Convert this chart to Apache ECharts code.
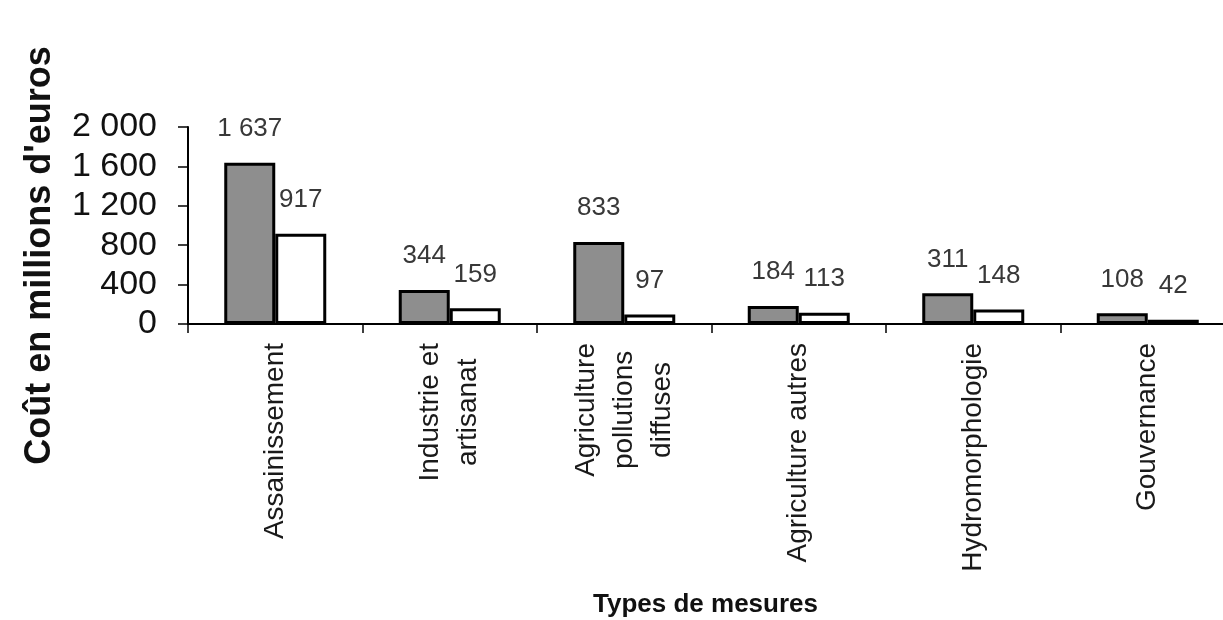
<!DOCTYPE html>
<html>
<head>
<meta charset="utf-8">
<script src="https://cdn.jsdelivr.net/npm/echarts@6/dist/echarts.min.js"></script>
<style>
html,body{margin:0;padding:0;background:#fff;}
#chart{width:1223px;height:620px;}
</style>
</head>
<body>
<div id="chart"></div>
<script>
const categories = ['Assainissement', 'Industrie et\nartisanat', 'Agriculture\npollutions\ndiffuses', 'Agriculture autres', 'Hydromorphologie', 'Gouvernance'];
const seriesA = [1637, 344, 833, 184, 311, 108];
const seriesB = [917, 159, 97, 113, 148, 42];
const yTicks = [0, 400, 800, 1200, 1600, 2000];

function fmt(v) {
  return String(v).replace(/\B(?=(\d{3})+(?!\d))/g, ' ');
}

const FONT = "'Liberation Sans', Arial, sans-serif";
const chart = echarts.init(document.getElementById('chart'));

const labelStyle = {
  show: true,
  position: 'top',
  distance: 21,
  fontSize: 26,
  fontFamily: FONT,
  color: '#383838',
  formatter: p => fmt(p.value)
};

chart.setOption({
  backgroundColor: '#fff',
  animation: false,
  grid: { left: 188, width: 1047, top: 127, bottom: 296, containLabel: false, outerBoundsMode: 'none' },
  xAxis: {
    type: 'category',
    data: categories,
    boundaryGap: true,
    name: 'Types de mesures',
    nameLocation: 'middle',
    nameGap: 268,
    nameTextStyle: { fontSize: 26, fontWeight: 'bold', fontFamily: FONT, color: '#111', padding: [0, 12, 0, 0] },
    axisLine: { lineStyle: { color: '#000', width: 2 } },
    axisTick: { show: true, inside: false, length: 9, lineStyle: { color: '#000', width: 1.5 } },
    axisLabel: {
      interval: 0,
      rotate: 90,
      margin: 19,
      fontSize: 28,
      fontFamily: FONT,
      color: '#1a1a1a',
      formatter: v => v.split('\n').map(s => '{c|' + s + '}').join('\n'),
      rich: { c: { align: 'center', fontSize: 28, lineHeight: 38, fontFamily: FONT, color: '#1a1a1a' } }
    }
  },
  yAxis: {
    type: 'value',
    min: yTicks[0],
    max: yTicks[yTicks.length - 1],
    interval: yTicks[1] - yTicks[0],
    name: "Coût en millions d'euros",
    nameLocation: 'middle',
    nameGap: 130,
    nameRotate: 90,
    nameTextStyle: { fontSize: 36, fontWeight: 'bold', fontFamily: FONT, color: '#111', padding: [0, 60, 0, 0] },
    axisLine: { show: true, lineStyle: { color: '#000', width: 2 } },
    axisTick: { show: true, inside: false, length: 10, lineStyle: { color: '#000', width: 1.5 } },
    splitLine: { show: false },
    axisLabel: {
      margin: 31,
      fontSize: 34,
      fontFamily: FONT,
      color: '#111',
      formatter: v => fmt(v)
    }
  },
  series: [
    {
      type: 'bar',
      data: seriesA,
      barWidth: 51,
      barGap: '0%',
      itemStyle: { color: '#8e8e8e', borderColor: '#000', borderWidth: 3 },
      label: labelStyle
    },
    {
      type: 'bar',
      data: seriesB,
      barWidth: 51,
      barGap: '0%',
      itemStyle: { color: '#ffffff', borderColor: '#000', borderWidth: 3 },
      label: labelStyle
    }
  ]
});
</script>
</body>
</html>
